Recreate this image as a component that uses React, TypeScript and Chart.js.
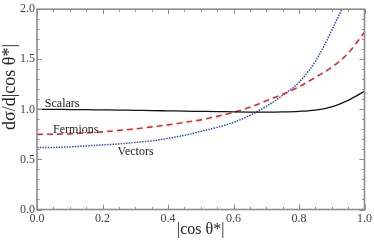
import React, { useEffect, useRef } from "react";
import { Chart, registerables } from "chart.js";
Chart.register(...registerables);

const cosTheta = [0, 0.05, 0.1, 0.15, 0.2, 0.25, 0.3, 0.35, 0.4, 0.45, 0.5, 0.55, 0.6, 0.65, 0.7, 0.75, 0.8, 0.85, 0.9, 0.95, 1.0];
const scalars = [1.0, 1.0, 0.998, 0.997, 0.995, 0.993, 0.99, 0.988, 0.985, 0.982, 0.98, 0.978, 0.975, 0.973, 0.972, 0.974, 0.98, 0.993, 1.025, 1.09, 1.18];
const fermions = [0.75, 0.752, 0.755, 0.765, 0.775, 0.79, 0.805, 0.825, 0.845, 0.87, 0.895, 0.93, 0.97, 1.02, 1.085, 1.15, 1.225, 1.32, 1.42, 1.56, 1.77];
const vectors = [0.62, 0.62, 0.625, 0.635, 0.645, 0.655, 0.67, 0.685, 0.71, 0.74, 0.78, 0.82, 0.87, 0.94, 1.03, 1.14, 1.27, 1.48, 1.79, 2.16, 2.7];

const seriesNames = ["Scalars", "Fermions", "Vectors"];
const curveLabelX = [0.024, 0.049, 0.246];
const curveLabelY = [1.02, 0.765, 0.54];
const xTitle = "|cos θ*|";
const yTitle = "dσ/d|cos θ*|";
const xMajorStep = 0.2;
const xMinorStep = 0.05;
const yMajorStep = 0.5;
const yMinorStep = 0.1;

const SERIF = "'Liberation Serif', 'Times New Roman', serif";

const framePlugin = {
  id: "frame",
  afterDatasetsDraw(chart: any) {
    const { ctx, chartArea, scales } = chart;
    const xs = scales.x;
    const ys = scales.y;
    const { left, right, top, bottom } = chartArea;
    ctx.save();
    ctx.strokeStyle = "#8c8c8c";
    ctx.lineWidth = 1;
    const drawXTicks = (step: number, len: number) => {
      for (let v = 0; v <= 1.0001; v += step) {
        const px = Math.round(xs.getPixelForValue(v)) + 0.5;
        ctx.beginPath();
        ctx.moveTo(px, bottom);
        ctx.lineTo(px, bottom - len);
        ctx.moveTo(px, top);
        ctx.lineTo(px, top + len);
        ctx.stroke();
      }
    };
    const drawYTicks = (step: number, len: number) => {
      for (let v = 0; v <= 2.0001; v += step) {
        const py = Math.round(ys.getPixelForValue(v)) + 0.5;
        ctx.beginPath();
        ctx.moveTo(left, py);
        ctx.lineTo(left + len, py);
        ctx.moveTo(right, py);
        ctx.lineTo(right - len, py);
        ctx.stroke();
      }
    };
    drawXTicks(xMinorStep, 2.5);
    drawXTicks(xMajorStep, 5);
    drawYTicks(yMinorStep, 2.5);
    drawYTicks(yMajorStep, 5);
    ctx.lineWidth = 1.6;
    ctx.strokeRect(left, top, right - left, bottom - top);

    ctx.fillStyle = "#222";
    ctx.font = `12px ${SERIF}`;
    ctx.textAlign = "left";
    ctx.textBaseline = "alphabetic";
    seriesNames.forEach((name, i) => {
      ctx.fillText(name, xs.getPixelForValue(curveLabelX[i]), ys.getPixelForValue(curveLabelY[i]));
    });

    ctx.fillStyle = "#222";
    ctx.font = `16px ${SERIF}`;
    ctx.textAlign = "center";
    ctx.textBaseline = "middle";
    ctx.fillText(xTitle, (left + right) / 2, 230);
    ctx.save();
    ctx.translate(10, 87);
    ctx.rotate(-Math.PI / 2);
    ctx.font = `18px ${SERIF}`;
    ctx.fillText(yTitle, 0, 0);
    ctx.restore();
    ctx.restore();
  },
};

export default function App() {
  const ref = useRef<HTMLCanvasElement | null>(null);
  useEffect(() => {
    document.body.style.margin = "0";
    const canvas = ref.current!;
    const mk = (ys: number[]) => cosTheta.map((x, i) => ({ x, y: ys[i] }));
    const chart = new Chart(canvas, {
      type: "line",
      data: {
        datasets: [
          {
            label: seriesNames[0],
            data: mk(scalars),
            borderColor: "#111",
            borderWidth: 1.3,
            pointRadius: 0,
            cubicInterpolationMode: "monotone",
          },
          {
            label: seriesNames[1],
            data: mk(fermions),
            borderColor: "#e8262c",
            borderWidth: 1.6,
            borderDash: [6, 4],
            pointRadius: 0,
            cubicInterpolationMode: "monotone",
          },
          {
            label: seriesNames[2],
            data: mk(vectors),
            borderColor: "#3050b0",
            borderWidth: 1.5,
            borderDash: [1.5, 1.2],
            pointRadius: 0,
            cubicInterpolationMode: "monotone",
          },
        ],
      },
      options: {
        animation: false,
        responsive: false,
        devicePixelRatio: 1,
        layout: { padding: { top: 5.5, right: 8, left: 0, bottom: 0 } },
        plugins: { legend: { display: false }, tooltip: { enabled: false } },
        scales: {
          x: {
            type: "linear",
            min: 0,
            max: 1,
            grid: { display: false, drawTicks: false },
            border: { display: false },
            ticks: {
              stepSize: xMajorStep,
              padding: 2,
              color: "#444",
              font: { family: SERIF, size: 12 },
              callback: (v: any) => Number(v).toFixed(1),
              maxRotation: 0,
            },
            afterFit: (s: any) => {
              s.height = 30.5;
            },
          },
          y: {
            type: "linear",
            min: 0,
            max: 2,
            grid: { display: false, drawTicks: false },
            border: { display: false },
            ticks: {
              stepSize: yMajorStep,
              padding: 2,
              color: "#444",
              font: { family: SERIF, size: 12 },
              callback: (v: any) => Number(v).toFixed(1),
            },
            afterFit: (s: any) => {
              s.width = 37;
            },
          },
        },
      },
      plugins: [framePlugin],
    } as any);
    return () => chart.destroy();
  }, []);
  return (
    <div style={{ width: 374, height: 240 }}>
      <canvas ref={ref} width={374} height={240} />
    </div>
  );
}
